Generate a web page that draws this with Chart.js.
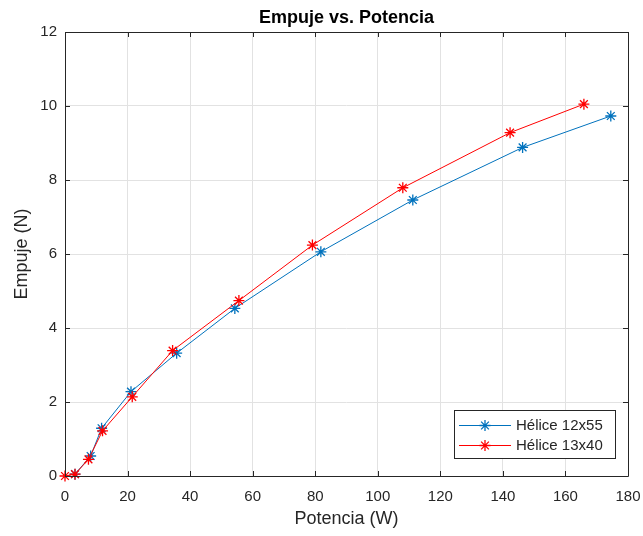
<!DOCTYPE html>
<html>
<head>
<meta charset="utf-8">
<script src="https://cdn.jsdelivr.net/npm/chart.js@4/dist/chart.umd.min.js"></script>
<style>
html,body{margin:0;padding:0;background:#fff;}
#wrap{width:643px;height:536px;}
</style>
</head>
<body>
<div id="wrap"><canvas id="c" width="643" height="536"></canvas></div>
<script>
const chartTitle = "Empuje vs. Potencia";
const xTitle = "Potencia (W)";
const yTitle = "Empuje (N)";
const seriesNames = ["Hélice 12x55", "Hélice 13x40"];
const power12x55 = [3.2, 8.2, 11.7, 21.1, 35.7, 54.3, 81.8, 111.2, 146.3, 174.5];
const thrust12x55 = [0.05, 0.54, 1.29, 2.28, 3.32, 4.53, 6.06, 7.46, 8.88, 9.73];
const power13x40 = [0, 3.2, 7.5, 12.0, 21.5, 34.4, 55.6, 79.1, 108.0, 142.3, 165.9];
const thrust13x40 = [0, 0.05, 0.45, 1.22, 2.14, 3.39, 4.74, 6.24, 7.79, 9.28, 10.05];
const xTicks = [0, 20, 40, 60, 80, 100, 120, 140, 160, 180];
const yTicks = [0, 2, 4, 6, 8, 10, 12];

const BLUE = '#0072BD', RED = '#FF0000', AX = '#262626';
const FONT = '"Liberation Sans", Arial, Helvetica, sans-serif';

function pts(xs, ys){ return xs.map((x,i)=>({x:x, y:ys[i]})); }

const decor = {
  id: 'decor',
  afterDraw(chart){
    const ctx = chart.ctx, a = chart.chartArea;
    const xs = chart.scales.x, ys = chart.scales.y;
    ctx.save();
    ctx.strokeStyle = AX; ctx.lineWidth = 1;
    ctx.beginPath();
    ctx.rect(Math.round(a.left)+0.5, Math.round(a.top)+0.5, Math.round(a.right-a.left), Math.round(a.bottom-a.top));
    ctx.stroke();
    const tl = 5;
    ctx.beginPath();
    xTicks.forEach(v=>{
      const px = Math.round(xs.getPixelForValue(v))+0.5;
      ctx.moveTo(px, a.bottom); ctx.lineTo(px, a.bottom-tl);
      ctx.moveTo(px, a.top); ctx.lineTo(px, a.top+tl);
    });
    yTicks.forEach(v=>{
      const py = Math.round(ys.getPixelForValue(v))+0.5;
      ctx.moveTo(a.left, py); ctx.lineTo(a.left+tl, py);
      ctx.moveTo(a.right, py); ctx.lineTo(a.right-tl, py);
    });
    ctx.stroke();
    ctx.fillStyle = '#000';
    ctx.font = 'bold 18px ' + FONT;
    ctx.textAlign = 'center'; ctx.textBaseline = 'alphabetic';
    ctx.fillText(chartTitle, (a.left+a.right)/2, 23);
    ctx.fillStyle = AX;
    ctx.font = '18px ' + FONT;
    ctx.textBaseline = 'middle';
    ctx.fillText(xTitle, (a.left+a.right)/2, 519);
    ctx.save();
    ctx.translate(22, (a.top+a.bottom)/2);
    ctx.rotate(-Math.PI/2);
    ctx.fillText(yTitle, 0, 0);
    ctx.restore();
    const lx = 454, ly = 410, lw = 161, lh = 48;
    ctx.fillStyle = '#fff';
    ctx.fillRect(lx, ly, lw, lh);
    ctx.strokeStyle = AX;
    ctx.strokeRect(lx+0.5, ly+0.5, lw, lh);
    const cols = [BLUE, RED];
    ctx.font = '15px ' + FONT;
    ctx.textAlign = 'left'; ctx.textBaseline = 'middle';
    [425, 445].forEach((y, i)=>{
      ctx.strokeStyle = cols[i]; ctx.lineWidth = 1;
      ctx.beginPath(); ctx.moveTo(459, y+0.5); ctx.lineTo(511, y+0.5); ctx.stroke();
      ctx.lineWidth = 1.3;
      Chart.helpers.drawPoint(ctx, {pointStyle:'star', radius:5.5, rotation:0, borderWidth:1.3}, 485, y+0.5);
      ctx.fillStyle = AX;
      ctx.fillText(seriesNames[i], 516, y+1);
    });
    ctx.restore();
  }
};

new Chart(document.getElementById('c'), {
  type: 'scatter',
  data: {
    datasets: [
      {label: seriesNames[0], data: pts(power12x55, thrust12x55), showLine: true, clip: false,
       borderColor: BLUE, backgroundColor: BLUE, borderWidth: 1, pointStyle: 'star',
       pointRadius: 5.5, pointBorderWidth: 1.3, pointBorderColor: BLUE, order: 2},
      {label: seriesNames[1], data: pts(power13x40, thrust13x40), showLine: true, clip: false,
       borderColor: RED, backgroundColor: RED, borderWidth: 1, pointStyle: 'star',
       pointRadius: 5.5, pointBorderWidth: 1.3, pointBorderColor: RED, order: 1}
    ]
  },
  options: {
    responsive: false,
    animation: false,
    devicePixelRatio: 1,
    layout: {padding: {left: 0, top: 32, right: 15, bottom: 0}},
    plugins: {legend: {display: false}, tooltip: {enabled: false}, title: {display: false}},
    scales: {
      x: {
        type: 'linear', min: 0, max: 180,
        afterBuildTicks: s => { s.ticks = xTicks.map(v=>({value:v})); },
        afterFit: s => { s.height = 60; s.paddingLeft = 0; s.paddingRight = 0; },
        grid: {color: '#e2e2e2', drawTicks: false},
        border: {display: false},
        ticks: {color: AX, font: {size: 15, family: FONT}, padding: 12, maxRotation: 0}
      },
      y: {
        type: 'linear', min: 0, max: 12,
        afterBuildTicks: s => { s.ticks = yTicks.map(v=>({value:v})); },
        afterFit: s => { s.width = 65; s.paddingTop = 0; s.paddingBottom = 0; },
        grid: {color: '#e2e2e2', drawTicks: false},
        border: {display: false},
        ticks: {color: AX, font: {size: 15, family: FONT}, padding: 8}
      }
    }
  },
  plugins: [decor]
});
</script>
</body>
</html>
